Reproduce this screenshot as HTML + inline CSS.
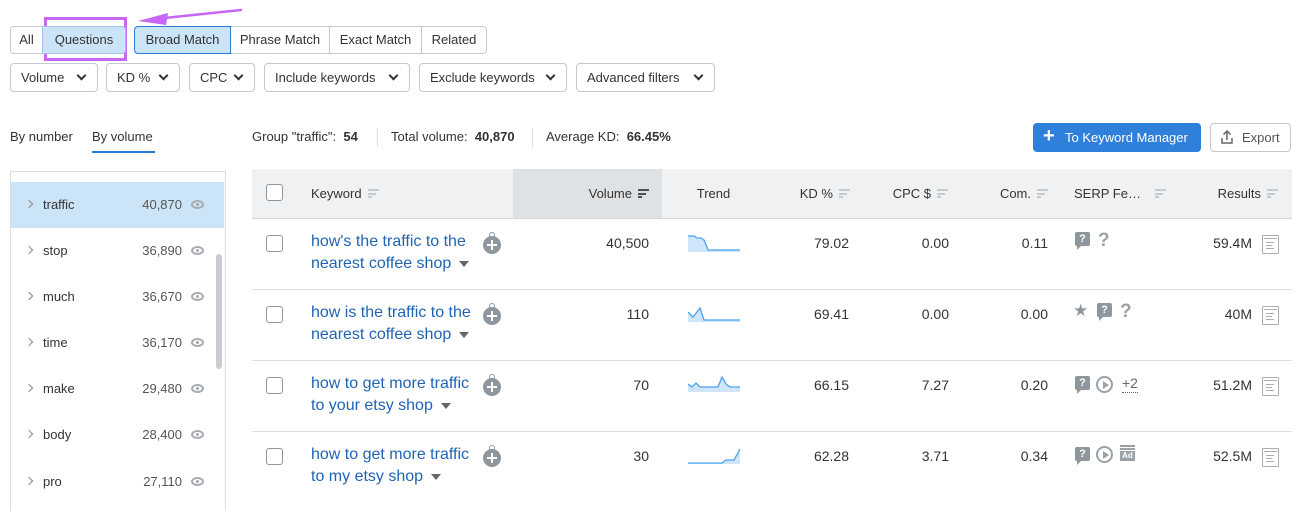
<!DOCTYPE html>
<html><head><meta charset="utf-8">
<style>
*{box-sizing:border-box;margin:0;padding:0}
body{width:1301px;height:500px;overflow:hidden;background:#fff;font-family:"Liberation Sans",sans-serif;color:#333;position:relative;font-size:13px}
.a{position:absolute}
.btn{position:absolute;height:28px;border:1px solid #c4c9d0;background:#fff;font-size:13px;line-height:26px;text-align:center;color:#333}
.sel{background:#cce4f7}
.flt{position:absolute;top:63px;height:29px;border:1px solid #c4c9d0;border-radius:4px;background:#fff;font-size:13px;line-height:27px;padding-left:10px;color:#333}
.chev{position:absolute;right:12px;top:8px;width:7px;height:7px;border-right:2px solid #333;border-bottom:2px solid #333;transform:rotate(45deg)}
.lrow{position:absolute;left:11px;width:213px;height:46px;font-size:13px;line-height:46px}
.lrow .ar{position:absolute;left:15px;top:19px;width:6px;height:6px;border-right:1.3px solid #888;border-top:1.3px solid #888;transform:rotate(45deg)}
.lrow .w{position:absolute;left:32px}
.lrow .n{position:absolute;right:42px;color:#555}
.eye{position:absolute;right:20px;top:18px;width:13px;height:9px;border:2px solid #a5abb1;border-radius:50%/50%}
.eye:after{content:"";position:absolute;left:2.5px;top:1px;width:3px;height:3px;background:#a5abb1;border-radius:50%}
.th{position:absolute;top:169px;height:50px;background:#f0f1f3;border-right:1px solid #dfe1e4;font-size:13px;line-height:49px;color:#333}
.sort{display:inline-block;vertical-align:middle;margin-left:6px;width:11px;height:9px;position:relative;top:-1px}
.sort i{position:absolute;left:0;height:2px;background:#c5cacf}
.cb{position:absolute;width:17px;height:17px;border:1px solid #8e969d;border-radius:3px;background:#fff}
.kw{position:absolute;left:311px;font-size:16px;line-height:22px;color:#1f63b5}
.tri{display:inline-block;width:0;height:0;border-left:5px solid transparent;border-right:5px solid transparent;border-top:6px solid #666;margin-left:8px;vertical-align:middle}
.plus{position:absolute;left:483px;width:18px;height:18px;border-radius:50%;background:#8e979e}
.plus:before{content:"";position:absolute;left:4px;top:8px;width:10px;height:2px;background:#fff}
.plus:after{content:"";position:absolute;left:8px;top:4px;width:2px;height:10px;background:#fff}
.plus b{position:absolute;left:6px;top:-4px;width:6px;height:6px;border:1.5px solid #8e979e;border-radius:50%}
.num{position:absolute;font-size:14px;line-height:20px;text-align:right;color:#333}
.line{position:absolute;left:252px;width:1040px;height:1px;background:#dcdfe2}
.doc{position:absolute;left:1262px;width:17px;height:19px;border:1px solid #a9afb4;border-radius:1px}
.doc:before{content:"";position:absolute;left:1px;right:1px;top:2px;height:1px;background:#a9afb4}
.doc i{position:absolute;left:3px;height:1px;background:#a9afb4}
.q{position:absolute;width:15px;height:14px;background:#8e979e;border-radius:2px;color:#fff;font-size:11px;font-weight:bold;line-height:14px;text-align:center}
.q:after{content:"";position:absolute;left:2px;bottom:-4px;border-left:0 solid transparent;border-right:5px solid transparent;border-top:5px solid #8e979e}
.qq{position:absolute;font-size:19px;font-weight:bold;color:#9aa1a7;line-height:20px}
.play{position:absolute;width:17px;height:17px;border:2px solid #9aa1a7;border-radius:50%}
.play:after{content:"";position:absolute;left:4.5px;top:2.5px;border-top:4px solid transparent;border-bottom:4px solid transparent;border-left:6px solid #9aa1a7}
</style></head><body>

<!-- purple annotation -->
<svg class="a" style="left:0;top:0" width="300" height="70">
<rect x="45.5" y="18.5" width="80" height="41" fill="none" stroke="#c767f4" stroke-width="3"/>
<line x1="241" y1="10" x2="155" y2="19" stroke="#c767f4" stroke-width="2.5" stroke-linecap="round"/>
<polygon points="138,21 168,13 166,25" fill="#c767f4"/>
</svg>

<!-- match buttons -->
<div class="btn" style="left:10px;top:26px;width:33px;border-radius:4px 0 0 4px">All</div>
<div class="btn sel" style="left:42px;top:26px;width:84px;border-radius:0 4px 4px 0;border-color:#9fc4e6">Questions</div>
<div class="btn sel" style="left:134px;top:26px;width:97px;border-radius:4px 0 0 4px;border-color:#2b7bd8;z-index:2">Broad Match</div>
<div class="btn" style="left:230px;top:26px;width:100px">Phrase Match</div>
<div class="btn" style="left:329px;top:26px;width:93px">Exact Match</div>
<div class="btn" style="left:421px;top:26px;width:66px;border-radius:0 4px 4px 0">Related</div>

<!-- filters -->
<div class="flt" style="left:10px;width:88px">Volume<span class="chev"></span></div>
<div class="flt" style="left:106px;width:74px">KD %<span class="chev"></span></div>
<div class="flt" style="left:189px;width:66px">CPC<span class="chev"></span></div>
<div class="flt" style="left:264px;width:146px">Include keywords<span class="chev"></span></div>
<div class="flt" style="left:419px;width:148px">Exclude keywords<span class="chev"></span></div>
<div class="flt" style="left:576px;width:139px">Advanced filters<span class="chev"></span></div>

<!-- left tabs -->
<div class="a" style="left:10px;top:129px;font-size:13px">By number</div>
<div class="a" style="left:92px;top:129px;font-size:13px">By volume</div>
<div class="a" style="left:92px;top:151px;width:63px;height:2px;background:#2b7bd8"></div>

<!-- left panel -->
<div class="a" style="left:10px;top:171px;width:216px;height:340px;border:1px solid #dcdfe2;border-bottom:none"></div>
<div class="lrow" style="top:182px;background:#cce4f7"><span class="ar"></span><span class="w">traffic</span><span class="n">40,870</span><span class="eye"></span></div>
<div class="lrow" style="top:228px"><span class="ar"></span><span class="w">stop</span><span class="n">36,890</span><span class="eye"></span></div>
<div class="lrow" style="top:274px"><span class="ar"></span><span class="w">much</span><span class="n">36,670</span><span class="eye"></span></div>
<div class="lrow" style="top:320px"><span class="ar"></span><span class="w">time</span><span class="n">36,170</span><span class="eye"></span></div>
<div class="lrow" style="top:366px"><span class="ar"></span><span class="w">make</span><span class="n">29,480</span><span class="eye"></span></div>
<div class="lrow" style="top:412px"><span class="ar"></span><span class="w">body</span><span class="n">28,400</span><span class="eye"></span></div>
<div class="lrow" style="top:459px"><span class="ar"></span><span class="w">pro</span><span class="n">27,110</span><span class="eye"></span></div>
<div class="a" style="left:216px;top:254px;width:6px;height:115px;background:#c9cdd1;border-radius:3px"></div>

<!-- summary -->
<div class="a" style="left:252px;top:129px;font-size:13px">Group "traffic": &nbsp;<b>54</b></div>
<div class="a" style="left:377px;top:128px;width:1px;height:19px;background:#dcdfe2"></div>
<div class="a" style="left:391px;top:129px;font-size:13px">Total volume: &nbsp;<b>40,870</b></div>
<div class="a" style="left:532px;top:128px;width:1px;height:19px;background:#dcdfe2"></div>
<div class="a" style="left:546px;top:129px;font-size:13px">Average KD: &nbsp;<b>66.45%</b></div>

<div class="a" style="left:1033px;top:123px;width:168px;height:29px;background:#2f80db;border-radius:4px;color:#fff;font-size:13px;line-height:29px"><span style="position:absolute;left:10px;top:-1px;font-size:20px;font-weight:bold">+</span><span style="position:absolute;left:32px">To Keyword Manager</span></div>
<div class="a" style="left:1210px;top:123px;width:81px;height:29px;border:1px solid #c4c9d0;border-radius:4px;font-size:13px;line-height:27px;color:#555">
<svg class="a" style="left:9px;top:6px" width="14" height="15"><path d="M7 1 V10 M3.5 4.5 L7 1 L10.5 4.5 M2 8 V13 H12 V8" fill="none" stroke="#666" stroke-width="1.5"/></svg>
<span style="position:absolute;left:31px">Export</span></div>

<!-- table header -->
<div class="th" style="left:252px;width:45px"></div>
<div class="cb" style="left:266px;top:184px"></div>
<div class="th" style="left:296px;width:218px;padding-left:15px">Keyword<span class="sort"><i style="top:0;width:11px"></i><i style="top:3.5px;width:8px"></i><i style="top:7px;width:4px"></i></span></div>
<div class="th" style="left:513px;width:150px;background:#dfe2e5;text-align:right;padding-right:13px">Volume<span class="sort"><i style="top:0;width:11px;background:#4b5257"></i><i style="top:3.5px;width:8px;background:#4b5257"></i><i style="top:7px;width:4px;background:#4b5257"></i></span></div>
<div class="th" style="left:662px;width:104px;text-align:center">Trend</div>
<div class="th" style="left:765px;width:98px;text-align:right;padding-right:12px">KD %<span class="sort"><i style="top:0;width:11px"></i><i style="top:3.5px;width:8px"></i><i style="top:7px;width:4px"></i></span></div>
<div class="th" style="left:862px;width:99px;text-align:right;padding-right:12px">CPC $<span class="sort"><i style="top:0;width:11px"></i><i style="top:3.5px;width:8px"></i><i style="top:7px;width:4px"></i></span></div>
<div class="th" style="left:960px;width:101px;text-align:right;padding-right:12px">Com.<span class="sort"><i style="top:0;width:11px"></i><i style="top:3.5px;width:8px"></i><i style="top:7px;width:4px"></i></span></div>
<div class="th" style="left:1060px;width:111px;padding-left:14px">SERP Fe…<span class="sort" style="margin-left:14px"><i style="top:0;width:11px"></i><i style="top:3.5px;width:8px"></i><i style="top:7px;width:4px"></i></span></div>
<div class="th" style="left:1170px;width:122px;text-align:right;padding-right:14px;border-right:none">Results<span class="sort"><i style="top:0;width:11px"></i><i style="top:3.5px;width:8px"></i><i style="top:7px;width:4px"></i></span></div>
<div class="line" style="top:218px;background:#d3d7db"></div>

<!-- row 1 -->
<div class="cb" style="left:266px;top:235px"></div>
<div class="kw" style="top:231px">how's the traffic to the<br>nearest coffee shop<span class="tri"></span></div>
<div class="plus" style="top:236px"><b></b></div>
<div class="num" style="left:560px;width:89px;top:233px">40,500</div>
<svg class="a" style="left:688px;top:234px" width="54" height="18"><path d="M0 2 L6 2 L9 4 L13 4 L16 6 L19 13 L20 16 L52 16 L52 18 L0 18Z" fill="#cfe6fa"/><path d="M0 2 L6 2 L9 4 L13 4 L16 6 L19 13 L20 16 L52 16" fill="none" stroke="#4aa3f0" stroke-width="1.3"/></svg>
<div class="num" style="left:780px;width:69px;top:233px">79.02</div>
<div class="num" style="left:880px;width:69px;top:233px">0.00</div>
<div class="num" style="left:978px;width:70px;top:233px">0.11</div>
<div class="q" style="left:1075px;top:232px">?</div>
<div class="qq" style="left:1098px;top:231px">?</div>
<div class="num" style="left:1180px;width:72px;top:233px">59.4M</div>
<div class="doc" style="top:235px"><i style="top:6px;width:8px"></i><i style="top:9px;width:6px"></i><i style="top:12px;width:8px"></i></div>
<div class="line" style="top:289px"></div>

<!-- row 2 -->
<div class="cb" style="left:266px;top:306px"></div>
<div class="kw" style="top:302px">how is the traffic to the<br>nearest coffee shop<span class="tri"></span></div>
<div class="plus" style="top:307px"><b></b></div>
<div class="num" style="left:560px;width:89px;top:304px">110</div>
<svg class="a" style="left:688px;top:304px" width="54" height="18"><path d="M0 8 L5 13 L12 4 L16 16 L52 16 L52 18 L0 18Z" fill="#cfe6fa"/><path d="M0 8 L5 13 L12 4 L16 16 L52 16" fill="none" stroke="#4aa3f0" stroke-width="1.3"/></svg>
<div class="num" style="left:780px;width:69px;top:304px">69.41</div>
<div class="num" style="left:880px;width:69px;top:304px">0.00</div>
<div class="num" style="left:978px;width:70px;top:304px">0.00</div>
<div class="a" style="left:1073px;top:301px;font-size:17px;color:#8e979e">★</div>
<div class="q" style="left:1097px;top:303px">?</div>
<div class="qq" style="left:1120px;top:302px">?</div>
<div class="num" style="left:1180px;width:72px;top:304px">40M</div>
<div class="doc" style="top:306px"><i style="top:6px;width:8px"></i><i style="top:9px;width:6px"></i><i style="top:12px;width:8px"></i></div>
<div class="line" style="top:360px"></div>

<!-- row 3 -->
<div class="cb" style="left:266px;top:377px"></div>
<div class="kw" style="top:373px">how to get more traffic<br>to your etsy shop<span class="tri"></span></div>
<div class="plus" style="top:378px"><b></b></div>
<div class="num" style="left:560px;width:89px;top:375px">70</div>
<svg class="a" style="left:688px;top:374px" width="54" height="18"><path d="M0 10 L4 13 L8 9 L12 13 L30 13 L34 3 L38 10 L42 13 L52 13 L52 18 L0 18Z" fill="#cfe6fa"/><path d="M0 10 L4 13 L8 9 L12 13 L30 13 L34 3 L38 10 L42 13 L52 13" fill="none" stroke="#4aa3f0" stroke-width="1.3"/></svg>
<div class="num" style="left:780px;width:69px;top:375px">66.15</div>
<div class="num" style="left:880px;width:69px;top:375px">7.27</div>
<div class="num" style="left:978px;width:70px;top:375px">0.20</div>
<div class="q" style="left:1075px;top:376px">?</div>
<div class="play" style="left:1096px;top:376px"></div>
<div class="a" style="left:1122px;top:375px;font-size:14px;color:#666;border-bottom:1px dotted #666;line-height:17px">+2</div>
<div class="num" style="left:1180px;width:72px;top:375px">51.2M</div>
<div class="doc" style="top:377px"><i style="top:6px;width:8px"></i><i style="top:9px;width:6px"></i><i style="top:12px;width:8px"></i></div>
<div class="line" style="top:431px"></div>

<!-- row 4 -->
<div class="cb" style="left:266px;top:448px"></div>
<div class="kw" style="top:444px">how to get more traffic<br>to my etsy shop<span class="tri"></span></div>
<div class="plus" style="top:449px"><b></b></div>
<div class="num" style="left:560px;width:89px;top:446px">30</div>
<svg class="a" style="left:688px;top:446px" width="54" height="18"><path d="M0 17 L34 17 L38 14 L46 14 L52 3 L52 18 L0 18Z" fill="#cfe6fa"/><path d="M0 17 L34 17 L38 14 L46 14 L52 3" fill="none" stroke="#4aa3f0" stroke-width="1.3"/></svg>
<div class="num" style="left:780px;width:69px;top:446px">62.28</div>
<div class="num" style="left:880px;width:69px;top:446px">3.71</div>
<div class="num" style="left:978px;width:70px;top:446px">0.34</div>
<div class="q" style="left:1075px;top:447px">?</div>
<div class="play" style="left:1096px;top:446px"></div>
<div class="a" style="left:1120px;top:445px;width:15px;height:16px">
<div class="a" style="left:0;top:0;width:15px;height:1.5px;background:#9aa1a7"></div>
<div class="a" style="left:0;top:3px;width:15px;height:1.5px;background:#9aa1a7"></div>
<div class="a" style="left:0;top:6px;width:15px;height:10px;background:#9aa1a7;color:#fff;font-size:8px;font-weight:bold;line-height:10px;text-align:center">Ad</div></div>
<div class="num" style="left:1180px;width:72px;top:446px">52.5M</div>
<div class="doc" style="top:448px"><i style="top:6px;width:8px"></i><i style="top:9px;width:6px"></i><i style="top:12px;width:8px"></i></div>

</body></html>
